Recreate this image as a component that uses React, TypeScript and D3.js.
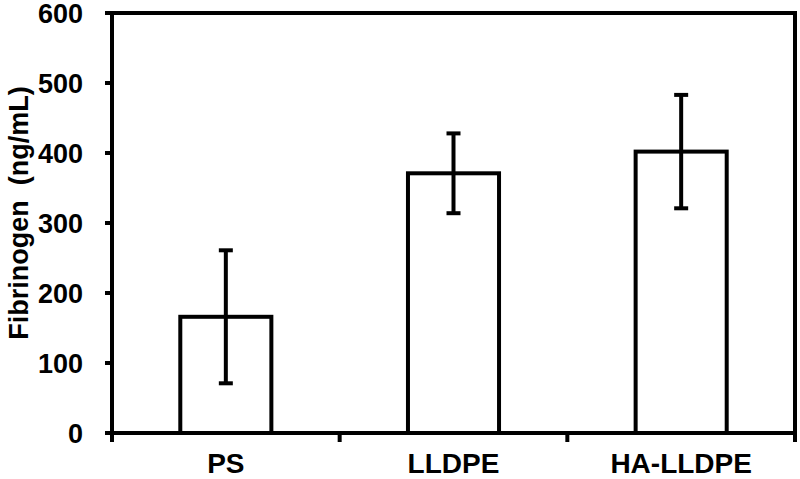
import React from 'react'
import * as d3 from 'd3'

// data
const categories = ['PS', 'LLDPE', 'HA-LLDPE']
const means = [166, 371, 402]
const errors = [95, 57, 81]
const yTicks = [0, 100, 200, 300, 400, 500, 600]

export default function App() {
  const width = 800
  const height = 479
  const left = 112
  const right = 795
  const top = 13
  const bottom = 433
  const sw = 4
  const font = '"Liberation Sans", Arial, sans-serif'

  const x = d3.scaleBand<string>().domain(categories).range([left, right])
    .paddingInner(0.6).paddingOuter(0.3)
  const xOuter = d3.scaleBand<string>().domain(categories).range([left, right])
  const y = d3.scaleLinear().domain([0, 600]).range([bottom, top])

  const capHalf = 7
  const boundaries = [left, ...categories.map(c => (xOuter(c) as number) + xOuter.bandwidth())]

  return (
    <svg width={width} height={height} style={{position: 'absolute', left: 0, top: 0, background: '#fff'}}>
      {/* bars */}
      {categories.map((c, i) => (
        <rect key={c}
          x={x(c)}
          y={y(means[i])}
          width={x.bandwidth()}
          height={bottom - y(means[i])}
          fill="#fff"
          stroke="#000"
          strokeWidth={sw}
        />
      ))}
      {/* error bars */}
      {categories.map((c, i) => {
        const cx = (x(c) as number) + x.bandwidth() / 2
        const hi = y(means[i] + errors[i])
        const lo = y(means[i] - errors[i])
        return (
          <g key={c} stroke="#000" strokeWidth={sw}>
            <line x1={cx} x2={cx} y1={hi} y2={lo} />
            <line x1={cx - capHalf} x2={cx + capHalf} y1={hi} y2={hi} />
            <line x1={cx - capHalf} x2={cx + capHalf} y1={lo} y2={lo} />
          </g>
        )
      })}
      {/* frame */}
      <g stroke="#000" strokeWidth={sw} fill="none">
        <line x1={left} x2={right} y1={top} y2={top} />
        <line x1={right} x2={right} y1={top - sw / 2} y2={bottom} />
        <line x1={left} x2={left} y1={top - sw / 2} y2={bottom + sw / 2} />
        <line x1={left - sw / 2} x2={right + sw / 2} y1={bottom} y2={bottom} />
      </g>
      {/* y ticks */}
      {yTicks.map(t => (
        <g key={t}>
          <line x1={left - 7} x2={left} y1={y(t)} y2={y(t)} stroke="#000" strokeWidth={sw} />
          <text x={83} y={y(t)} dy="0.36em" textAnchor="end"
            fontFamily={font} fontWeight="bold" fontSize={27} fill="#000">{t}</text>
        </g>
      ))}
      {/* x ticks */}
      {boundaries.map((b, i) => (
        <line key={i} x1={b} x2={b} y1={bottom} y2={bottom + 9} stroke="#000" strokeWidth={sw} />
      ))}
      {categories.map(c => (
        <text key={c} x={(x(c) as number) + x.bandwidth() / 2} y={473} textAnchor="middle"
          fontFamily={font} fontWeight="bold" fontSize={28} fill="#000">{c}</text>
      ))}
      <text transform={`translate(28,213) rotate(-90)`} textAnchor="middle"
        fontFamily={font} fontWeight="bold" fontSize={27} fill="#000"
        style={{whiteSpace: 'pre'}}>{'Fibrinogen  (ng/mL)'}</text>
    </svg>
  )
}
